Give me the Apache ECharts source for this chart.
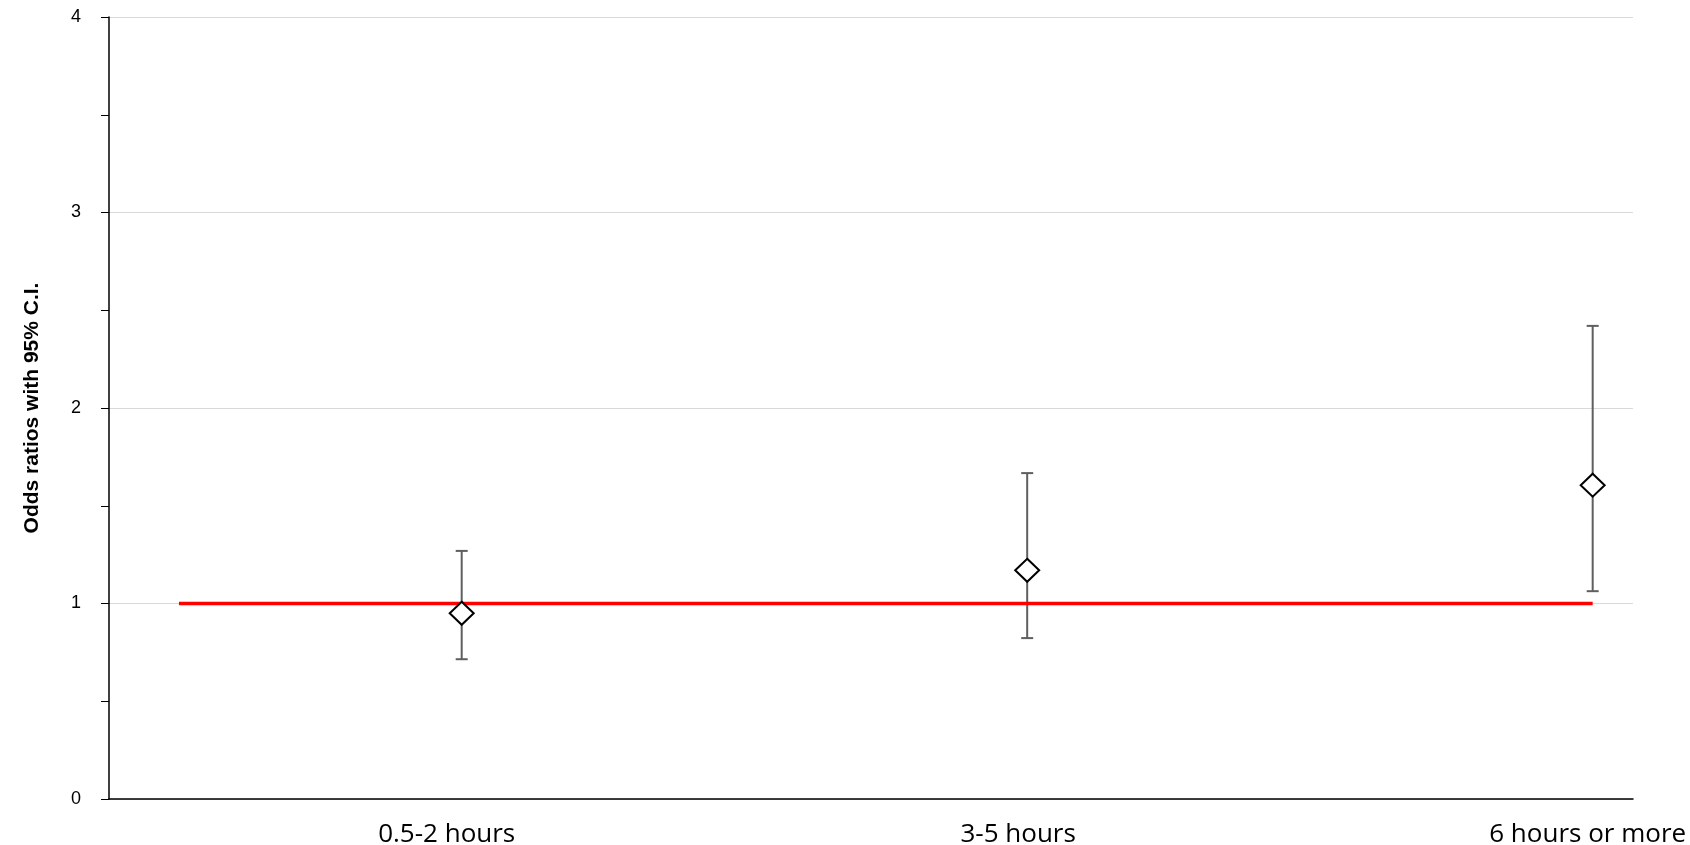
<!DOCTYPE html>
<html>
<head>
<meta charset="utf-8">
<script src="https://cdn.jsdelivr.net/npm/echarts@6/dist/echarts.min.js"></script>
<style>
html,body{margin:0;padding:0;background:#fff;}
#chart{width:1690px;height:845px;}
</style>
</head>
<body>
<div id="chart"></div>
<script>
// ---- data ----
const categories = ['0.5-2 hours', '3-5 hours', '6 hours or more'];
const oddsRatio = [0.95, 1.17, 1.605];
const ciLower = [0.715, 0.823, 1.063];
const ciUpper = [1.269, 1.667, 2.42];
const referenceLine = [[0.5, 1], [3, 1]];
const yTicks = [0, 1, 2, 3, 4];

const catPos = categories.map((c, i) => i + 1);
const points = catPos.map((x, i) => [x, oddsRatio[i]]);
const bars = catPos.map((x, i) => [x, ciLower[i], ciUpper[i]]);

const labelBase = {fontFamily: 'Open Sans', fontSize: 26, color: '#000'};
const rich = {
  c0: Object.assign({padding: [0, 30, 0, 0]}, labelBase),
  c1: Object.assign({padding: [0, 18, 0, 0]}, labelBase),
  c2: Object.assign({padding: [0, 10, 0, 0]}, labelBase)
};

const chart = echarts.init(document.getElementById('chart'), null, {renderer: 'canvas'});
chart.setOption({
  animation: false,
  backgroundColor: '#ffffff',
  grid: {left: 109, right: 57, top: 17, bottom: 46, containLabel: false, outerBoundsMode: 'none'},
  xAxis: {
    type: 'value',
    min: 0.3763,
    max: 3.0713,
    axisLine: {show: true, onZero: false, lineStyle: {color: '#000', width: 1.5}},
    axisTick: {show: false},
    splitLine: {show: false},
    axisLabel: {
      customValues: catPos,
      formatter: v => {
        const i = Math.round(v) - 1;
        return categories[i] ? '{c' + i + '|' + categories[i] + '}' : '';
      },
      rich: rich,
      fontFamily: 'Open Sans',
      fontSize: 26,
      color: '#000',
      margin: 23
    }
  },
  yAxis: {
    type: 'value',
    min: yTicks[0],
    max: yTicks[yTicks.length - 1],
    interval: 1,
    name: 'Odds ratios with 95% C.I.',
    nameLocation: 'middle',
    nameGap: 66,
    nameTextStyle: {fontFamily: 'Liberation Sans', fontWeight: 'bold', fontSize: 21, color: '#000'},
    axisLine: {show: true, lineStyle: {color: '#000', width: 1.5}},
    axisTick: {show: true, length: 8, lineStyle: {color: '#000', width: 1}},
    minorTick: {show: true, splitNumber: 2, length: 8, lineStyle: {color: '#000', width: 1}},
    splitLine: {show: true, lineStyle: {color: '#D9D9D9', width: 1}},
    axisLabel: {fontFamily: 'Liberation Sans', fontSize: 18, color: '#000', margin: 28}
  },
  series: [
    {
      type: 'custom',
      z: 1,
      data: bars,
      renderItem: function (params, api) {
        const x = api.value(0);
        const lo = api.coord([x, api.value(1)]);
        const hi = api.coord([x, api.value(2)]);
        const cap = 6;
        const style = {stroke: '#5f5f5f', lineWidth: 2};
        return {
          type: 'group',
          children: [
            {type: 'line', shape: {x1: lo[0], y1: lo[1], x2: hi[0], y2: hi[1]}, style: style},
            {type: 'line', shape: {x1: hi[0] - cap, y1: hi[1], x2: hi[0] + cap, y2: hi[1]}, style: style},
            {type: 'line', shape: {x1: lo[0] - cap, y1: lo[1], x2: lo[0] + cap, y2: lo[1]}, style: style}
          ]
        };
      }
    },
    {
      type: 'line',
      z: 2,
      data: referenceLine,
      showSymbol: false,
      symbol: 'none',
      lineStyle: {color: '#FF0000', width: 3.5}
    },
    {
      type: 'scatter',
      z: 3,
      data: points,
      symbol: 'diamond',
      symbolSize: [24, 23],
      itemStyle: {color: '#ffffff', borderColor: '#000000', borderWidth: 2, opacity: 1}
    }
  ]
});
</script>
</body>
</html>
